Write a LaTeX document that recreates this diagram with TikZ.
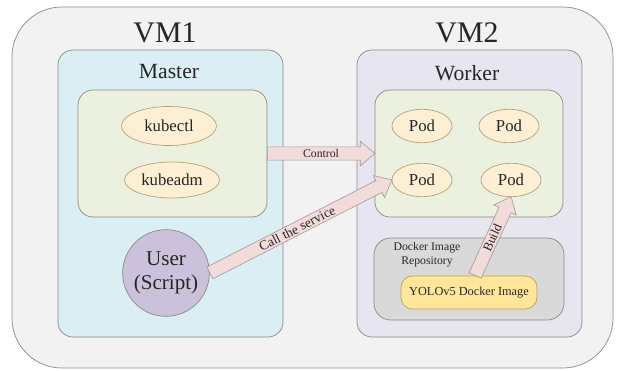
\documentclass[tikz,border=0pt]{standalone}
\usepackage{fontspec}
\setmainfont{Liberation Serif}
\usepackage{xcolor}
\usetikzlibrary{arrows.meta,positioning,calc,shapes.geometric,shapes.arrows}

\definecolor{outerbg}{HTML}{F2F2F2}
\definecolor{boxline}{HTML}{8A8A8A}
\definecolor{masterbg}{HTML}{DAEEF3}
\definecolor{workerbg}{HTML}{E7E5EF}
\definecolor{greenbg}{HTML}{EBF1DE}
\definecolor{podbg}{HTML}{FCEFD4}
\definecolor{podline}{HTML}{B5A27A}
\definecolor{userbg}{HTML}{CCC1DA}
\definecolor{repobg}{HTML}{D9D9D9}
\definecolor{yolobg}{HTML}{FFE699}
\definecolor{yololine}{HTML}{BF9F50}
\definecolor{arrowbg}{HTML}{F2DCDB}
\definecolor{arrowline}{HTML}{A39696}

\begin{document}
\begin{tikzpicture}[x=0.03cm,y=-0.03cm,
  every node/.style={text=black!85},
  box/.style={draw=boxline,line width=0.6pt,rounded corners=0.45cm,inner sep=0pt},
  oval/.style={ellipse,draw=podline,fill=podbg,line width=0.6pt,inner sep=0pt,font=\fontsize{14.3}{16}\selectfont},
  fatarrow/.style={single arrow,draw=arrowline,fill=arrowbg,line width=0.5pt,inner xsep=0pt,inner ysep=0.19cm,
    single arrow head extend=0.17cm,single arrow tip angle=80,anchor=tail},
  lbl/.style={inner sep=0pt}]
 \useasboundingbox (0,0) rectangle (619,371);
 % the two machines
 \node[box,fill=outerbg,rounded corners=1.5cm,minimum width=18.03cm,minimum height=10.83cm] (outer) at (312.5,187.5) {};
 \node[font=\fontsize{25.5}{30}\selectfont] (vm1) at (165,33) {VM1};
 \node[font=\fontsize{25.5}{30}\selectfont] (vm2) at (467,33) {VM2};
 \node[box,fill=masterbg,minimum width=6.75cm,minimum height=8.61cm] (master) at (170.5,193.5) {};
 \node[box,fill=workerbg,minimum width=6.75cm,minimum height=8.61cm] (worker) at (469.5,193.5) {};
 \node[font=\fontsize{18.5}{22}\selectfont] (mtitle) at (169,72) {Master};
 \node[font=\fontsize{18.5}{22}\selectfont] (wtitle) at (467,73) {Worker};
 \node[box,fill=greenbg,minimum width=5.67cm,minimum height=3.81cm] (mgreen) at (172.5,153.5) {};
 \node[box,fill=greenbg,minimum width=5.64cm,minimum height=3.81cm] (wgreen) at (469,153.5) {};
 % master side
 \node[oval,minimum width=2.85cm,minimum height=1.17cm] (kubectl) at (169,126) {kubectl};
 \node[oval,minimum width=2.85cm,minimum height=1.08cm] (kubeadm) at (172,180) {kubeadm};
 \node[circle,draw=boxline,fill=userbg,line width=0.6pt,minimum size=2.6cm,inner sep=0pt,align=center,
   font=\fontsize{18}{20}\selectfont] (user) at (166,273) {User\\(Script)};
 % worker side
 \foreach \n/\x/\y in {pod1/422/126, pod2/509/126, pod3/422/180, pod4/511/180}
   \node[oval,minimum width=1.8cm,minimum height=1.0cm] (\n) at (\x,\y) {Pod};
 \node[box,fill=repobg,rounded corners=0.5cm,minimum width=5.7cm,minimum height=2.46cm] (repo) at (469,279) {};
 \node[align=center,font=\fontsize{10}{12}\selectfont] (repotxt) at (427,255) {Docker Image\\Repository};
 \node[draw=yololine,fill=yolobg,line width=0.6pt,rounded corners=0.35cm,minimum width=4.08cm,minimum height=0.99cm,
   inner sep=0pt,font=\fontsize{10.5}{12}\selectfont] (yolo) at (469,292.5) {YOLOv5 Docker Image};
 % fat arrows
 \path let \p1=(mgreen.east), \p2=(wgreen.west), \n1={atan2(\y2-\y1,\x2-\x1)}, \n2={veclen(\x2-\x1,\y2-\y1)} in
   node[fatarrow,rotate=\n1,minimum height=\n2] (control) at (\p1) {};
 \node[lbl,font=\fontsize{10}{12}\selectfont] at ($(mgreen.east)!0.5!(wgreen.west)$) {Control};
 \path let \p1=(user.east), \p2=(pod3.west), \n1={atan2(\y2-\y1,\x2-\x1)}, \n2={veclen(\x2-\x1,\y2-\y1)} in
   node[fatarrow,rotate=\n1,minimum height=\n2] (call) at (\p1) {}
   node[lbl,rotate=\n1,font=\fontsize{11.5}{13}\selectfont] at ($(\p1)!0.48!(\p2)$) {Call the service};
 \path let \p1=($(yolo.north)+(6,0)$), \p2=(pod4.south), \n1={atan2(\y2-\y1,\x2-\x1)}, \n2={veclen(\x2-\x1,\y2-\y1)} in
   node[fatarrow,rotate=\n1,minimum height=\n2] (build) at (\p1) {}
   node[lbl,rotate=\n1,font=\fontsize{11}{13}\selectfont] at ($(\p1)!0.48!(\p2)$) {Build};
\end{tikzpicture}
\end{document}
